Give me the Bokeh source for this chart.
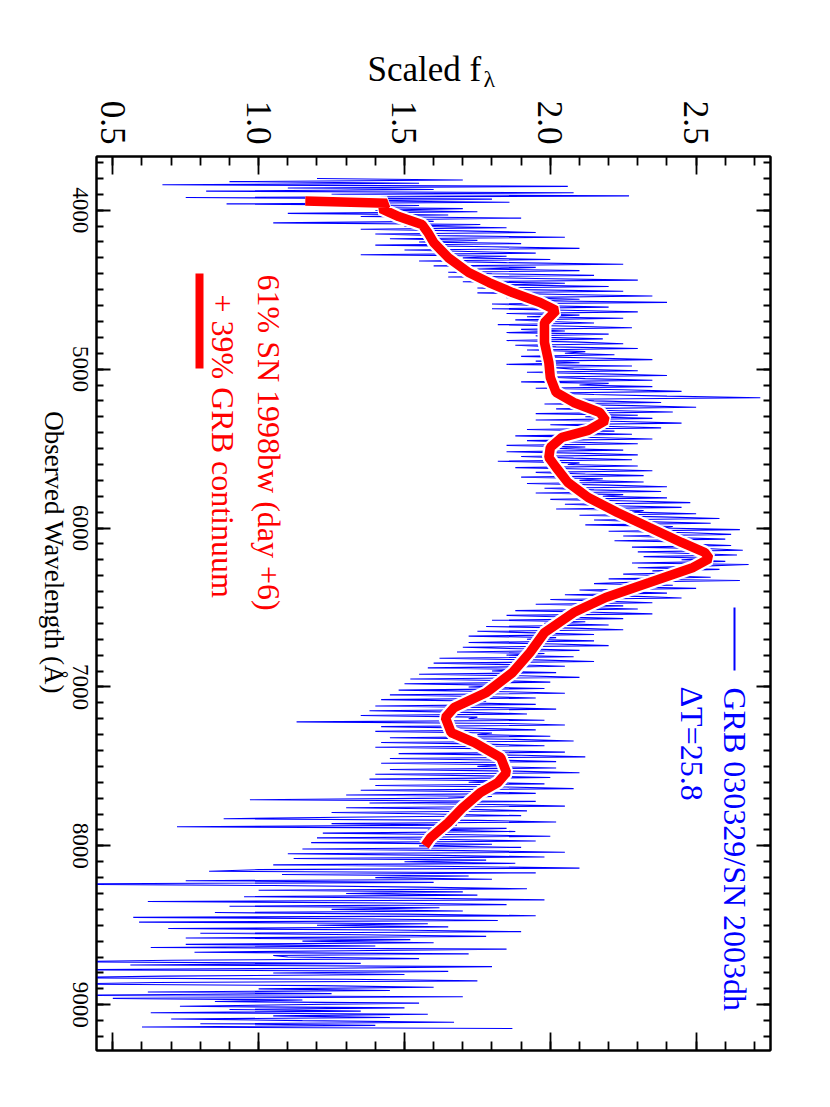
import math
from bokeh.plotting import figure
from bokeh.models import (Range1d, LinearAxis, SingleIntervalTicker, PrintfTickFormatter,
                          Label)
from bokeh.core.properties import value
from bokeh.embed import file_html
from bokeh.resources import INLINE

# ---------------- data ----------------
# observed GRB 030329 / SN 2003dh spectrum (10 A steps from 3800 A)
blue_wave = list(range(3800, 9151, 10))
blue_flux = [
    1.20, 1.70, 0.90, 1.55, 0.67, 2.06, 1.10, 1.60, 0.82, 2.08,
    1.25, 2.27, 0.75, 1.80, 1.30, 1.86, 0.89, 1.55, 1.20, 1.70,
    1.40, 1.75, 1.10, 1.65, 1.35, 1.90, 1.45, 1.60, 1.05, 1.76,
    1.50, 1.85, 1.35, 1.70, 1.95, 1.40, 1.62, 2.05, 1.45, 1.75,
    1.55, 1.90, 1.40, 1.80, 2.10, 1.50, 1.72, 1.95, 1.35, 1.85,
    1.70, 2.00, 1.55, 1.85, 2.25, 1.60, 1.95, 1.75, 2.10, 1.65,
    1.80, 2.15, 1.65, 1.95, 2.30, 1.70, 2.05, 1.85, 2.20, 1.75,
    1.90, 2.25, 1.75, 2.05, 2.35, 1.85, 2.10, 1.95, 2.40, 1.80,
    1.95, 2.20, 1.80, 2.05, 2.30, 1.85, 2.10, 1.92, 2.25, 1.88,
    2.00, 2.15, 1.82, 2.08, 2.28, 1.90, 2.05, 1.85, 2.20, 1.95,
    1.98, 2.18, 1.85, 2.10, 2.25, 1.88, 2.02, 2.30, 1.92, 2.12,
    2.05, 2.22, 1.90, 2.15, 2.35, 1.95, 2.10, 1.85, 2.28, 2.00,
    2.08, 2.30, 1.92, 2.18, 2.40, 1.98, 2.12, 2.35, 1.90, 2.20,
    2.10, 2.35, 1.95, 2.25, 2.45, 2.00, 2.15, 2.40, 2.72, 2.05,
    2.15, 2.38, 1.98, 2.28, 2.50, 2.02, 2.20, 2.42, 1.95, 2.30,
    2.12, 2.35, 1.95, 2.25, 2.45, 2.00, 2.18, 2.38, 1.92, 2.22,
    2.05, 2.28, 1.88, 2.15, 2.35, 1.92, 2.10, 2.30, 1.85, 2.12,
    2.02, 2.25, 1.85, 2.12, 2.30, 1.90, 2.08, 2.28, 1.82, 2.10,
    2.06, 2.30, 1.88, 2.15, 2.35, 1.95, 2.12, 2.32, 1.90, 2.18,
    2.10, 2.32, 1.92, 2.20, 2.40, 1.98, 2.15, 2.38, 1.95, 2.25,
    2.18, 2.40, 2.00, 2.28, 2.48, 2.05, 2.22, 2.45, 2.02, 2.32,
    2.28, 2.50, 2.10, 2.38, 2.58, 2.15, 2.32, 2.55, 2.12, 2.42,
    2.38, 2.65, 2.20, 2.48, 2.62, 2.25, 2.42, 2.60, 2.22, 2.50,
    2.45, 2.62, 2.28, 2.55, 2.66, 2.30, 2.48, 2.64, 2.32, 2.55,
    2.45, 2.60, 2.28, 2.68, 2.52, 2.30, 2.58, 2.35, 2.50, 2.25,
    2.38, 2.55, 2.20, 2.65, 2.30, 2.15, 2.42, 2.25, 2.50, 2.10,
    2.22, 2.40, 2.05, 2.30, 2.45, 2.00, 2.18, 2.35, 1.95, 2.25,
    2.08, 2.30, 1.88, 2.15, 2.35, 1.85, 2.05, 2.25, 1.80, 2.12,
    1.98, 2.20, 1.78, 2.08, 2.25, 1.75, 1.95, 2.15, 1.72, 2.02,
    1.92, 2.15, 1.72, 2.02, 2.20, 1.70, 1.90, 2.10, 1.68, 1.98,
    1.85, 2.08, 1.62, 1.95, 2.15, 1.60, 1.88, 2.05, 1.58, 1.90,
    1.80, 2.02, 1.55, 1.90, 2.10, 1.52, 1.82, 2.00, 1.50, 1.85,
    1.72, 1.98, 1.48, 1.85, 2.05, 1.45, 1.75, 1.95, 1.42, 1.78,
    1.70, 1.95, 1.40, 1.82, 2.02, 1.38, 1.72, 1.92, 1.35, 1.75,
    1.72, 1.98, 1.13, 1.85, 2.05, 1.42, 1.75, 1.95, 1.40, 1.80,
    1.75, 2.00, 1.45, 1.88, 2.08, 1.42, 1.78, 1.98, 1.40, 1.82,
    1.78, 2.05, 1.48, 1.90, 2.12, 1.45, 1.80, 2.02, 1.42, 1.85,
    1.75, 2.02, 1.45, 1.88, 2.10, 1.40, 1.78, 2.00, 1.38, 1.82,
    1.72, 1.98, 1.40, 1.85, 2.08, 1.35, 1.75, 1.95, 1.30, 1.80,
    1.65, 0.97, 1.95, 1.38, 1.80, 2.05, 1.30, 1.72, 1.92, 1.25,
    1.60, 1.90, 1.28, 0.88, 1.75, 2.02, 1.25, 1.68, 0.72, 1.85,
    1.58, 1.88, 1.22, 1.72, 2.00, 1.20, 1.65, 1.95, 1.18, 1.80,
    1.55, 1.90, 1.15, 1.70, 2.05, 1.10, 1.62, 1.98, 1.12, 1.78,
    1.50, 1.88, 1.05, 1.68, 2.10, 1.00, 0.83, 1.95, 1.08, 1.72,
    1.40, 1.80, 0.75, 1.60, 0.20, 1.05, 1.55, 1.92, 1.00, 1.70,
    1.30, 1.75, 0.95, 1.55, 1.98, 0.62, 1.45, 1.85, 0.90, 1.62,
    1.25, 1.70, 0.85, 1.50, 1.95, 0.57, 1.40, 1.82, 0.59, 1.58,
    1.20, 1.65, 0.69, 1.45, 1.90, 0.80, 1.35, 1.78, 0.75, 1.52,
    1.15, 1.60, 0.75, 1.40, 0.63, 1.85, 1.30, 0.78, 1.72, 1.05,
    1.10, 1.55, 0.70, 0.30, 1.35, 0.56, 1.80, 1.25, 0.35, 1.65,
    1.05, 1.50, 0.68, 0.25, 1.30, 1.75, 0.65, 0.32, 1.20, 1.60,
    1.00, 1.45, 0.62, 1.25, 0.30, 1.70, 0.50, 1.15, 0.85, 1.55,
    1.10, 0.73, 1.50, 0.90, 1.35, 0.63, 1.58, 1.05, 1.45, 0.70,
    1.15, 1.67, 0.80, 1.40, 0.60, 1.87,
]

# model: 61% SN 1998bw (day +6) + 39% GRB continuum
red_wave = [3942, 3956, 3990, 4040, 4090, 4140, 4203, 4298, 4392, 4455, 4518, 4581, 4631,
            4707, 4832, 4958, 5053, 5147, 5210, 5273, 5323, 5386, 5430, 5493, 5556,
            5619, 5713, 5808, 5902, 5997, 6091, 6154, 6192, 6248, 6343, 6437, 6532,
            6658, 6784, 6910, 7036, 7130, 7193, 7287, 7350, 7445, 7539, 7602, 7665,
            7759, 7854, 7948, 7999]
red_flux = [1.16, 1.44, 1.42, 1.48, 1.56, 1.58, 1.60, 1.65, 1.72, 1.79, 1.87, 1.965, 2.02,
            1.98, 1.98, 1.995, 2.00, 2.02, 2.08, 2.17, 2.19, 2.13, 2.04, 2.00, 1.995,
            2.02, 2.06, 2.13, 2.23, 2.34, 2.45, 2.53, 2.545, 2.49, 2.34, 2.19, 2.08,
            1.98, 1.93, 1.87, 1.78, 1.67, 1.64, 1.66, 1.74, 1.83, 1.85, 1.82, 1.76,
            1.70, 1.65, 1.59, 1.57]

flux_tick_interval = 0.5
wave_ticks = [4000, 5000, 6000, 7000, 8000, 9000]
wave_tick_labels = ["4000", "5000", "6000", "7000", "8000", "9000"]

# ---------------- layout ----------------
X0, X1 = 0.444, 2.755
W0, W1 = 3662, 9288          # top, bottom
FL, FR, FT, FB = 104, 778, 164, 1058   # frame in page pixels


def fx(px):
    return X0 + (px - FL) / (FR - FL) * (X1 - X0)


def fy(py):
    return W0 + (py - FT) / (FB - FT) * (W1 - W0)


FONT = "Liberation Serif"
ROT = -math.pi / 2

p = figure(width=800, height=1090, x_range=Range1d(X0, X1), y_range=Range1d(W1, W0),
           output_backend="svg", toolbar_location=None, x_axis_location="above",
           min_border_left=FL - 8, min_border_right=808 - FR,
           min_border_top=FT - 8, min_border_bottom=1098 - FB)
p.grid.visible = False
p.outline_line_color = "black"
p.outline_line_width = 2
p.background_fill_color = "white"
p.border_fill_color = "white"


def style_axis(ax, major_in, minor_in, show_labels=False):
    ax.axis_line_color = "black"
    ax.axis_line_width = 2
    ax.major_tick_in = major_in
    ax.major_tick_out = 0
    ax.minor_tick_in = minor_in
    ax.minor_tick_out = 0
    ax.major_tick_line_width = 1.8
    ax.minor_tick_line_width = 1.8
    ax.major_tick_line_color = "black"
    ax.minor_tick_line_color = "black"
    if not show_labels:
        ax.major_label_text_color = None
        ax.major_label_text_font_size = "8px"
        ax.major_label_standoff = 0


# top axis (flux) with rotated labels
top = p.xaxis[0]
top.ticker = SingleIntervalTicker(interval=flux_tick_interval, num_minor_ticks=5)
top.formatter = PrintfTickFormatter(format="%.1f")
style_axis(top, 18, 9, show_labels=True)
top.major_label_orientation = ROT
top.major_label_standoff = 12
top.major_label_text_font = FONT
top.major_label_text_font_size = "35px"
top.major_label_text_color = "black"

bottom = LinearAxis(ticker=SingleIntervalTicker(interval=flux_tick_interval, num_minor_ticks=5))
style_axis(bottom, 18, 9)
p.add_layout(bottom, "below")

left = p.yaxis[0]
left.ticker = SingleIntervalTicker(interval=1000, num_minor_ticks=10)
style_axis(left, 14, 7)

right = LinearAxis(ticker=SingleIntervalTicker(interval=1000, num_minor_ticks=10))
style_axis(right, 14, 7)
p.add_layout(right, "right")

# wavelength tick labels (rotated clockwise, left of the frame; overlay level -> not clipped)
p.text(x=[fx(88)] * len(wave_ticks), y=wave_ticks, text=wave_tick_labels, angle=ROT,
       text_align="center", text_baseline="middle", text_font=value(FONT),
       text_font_size="23px", text_color="black", level="overlay")

# axis titles
p.text(x=[fx(61)], y=[fy(560)], text=["Observed Wavelength (Å)"], angle=ROT,
       text_align="center", text_baseline="middle", text_font=value(FONT),
       text_font_size="27px", text_color="black", level="overlay")
p.text(x=[fx(375)], y=[fy(77)], text=["Scaled f"], text_align="left",
       text_baseline="alphabetic", text_font=value(FONT), text_font_size="35px",
       text_color="black", level="overlay")
p.text(x=[fx(491)], y=[fy(86)], text=["λ"], text_align="left",
       text_baseline="alphabetic", text_font=value(FONT), text_font_size="24px",
       text_color="black", level="overlay")

# spectrum
p.line(blue_flux, blue_wave, line_color="#0000ff", line_width=1.1)

# model (white edge + red)
p.line(red_flux, red_wave, line_color="white", line_width=14)
p.line(red_flux, red_wave, line_color="#ff0000", line_width=9.5)

# legend samples
p.segment(x0=[fx(207)], y0=[fy(281)], x1=[fx(207)], y1=[fy(376)],
          line_color="#ff0000", line_width=8, line_cap="butt")
p.segment(x0=[fx(742)], y0=[fy(615)], x1=[fx(742)], y1=[fy(678)],
          line_color="#0000ff", line_width=2, line_cap="butt")

# legend texts
p.add_layout(Label(x=fx(276), y=fy(282), text="61% SN 1998bw (day +6)", angle=ROT,
                   text_align="left", text_baseline="middle", text_font=FONT,
                   text_font_size="32px", text_color="#ff0000"))
p.add_layout(Label(x=fx(230), y=fy(302), text="+ 39% GRB continuum", angle=ROT,
                   text_align="left", text_baseline="middle", text_font=FONT,
                   text_font_size="32px", text_color="#ff0000"))
p.add_layout(Label(x=fx(742.5), y=fy(695), text="GRB 030329/SN 2003dh", angle=ROT,
                   text_align="left", text_baseline="middle", text_font=FONT,
                   text_font_size="32px", text_color="#0000ff"))
p.add_layout(Label(x=fx(699), y=fy(694), text="ΔT=25.8", angle=ROT,
                   text_align="left", text_baseline="middle", text_font=FONT,
                   text_font_size="32px", text_color="#0000ff"))

open("out.html", "w").write(file_html(p, INLINE))
